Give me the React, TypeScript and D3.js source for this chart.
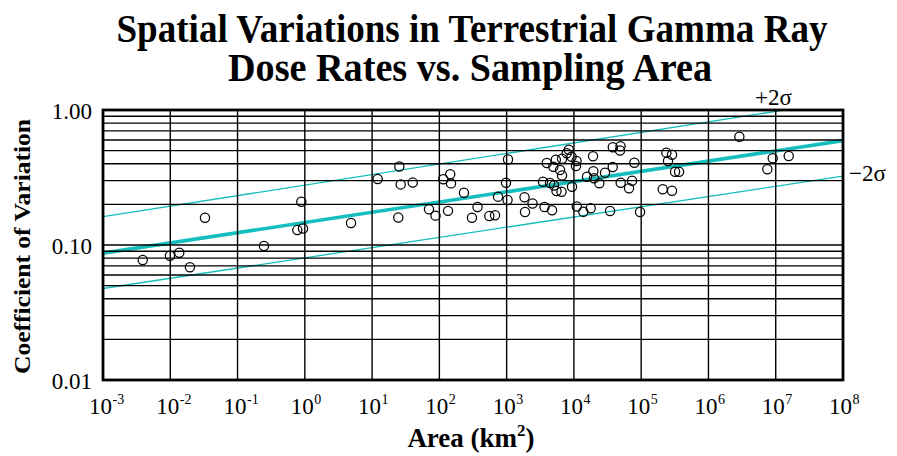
import React from 'react';
import * as d3 from 'd3';

// ---- data ----
const areas = [
  0.0039, 0.0099, 0.0136, 0.0196, 0.0328, 0.247, 0.887, 0.773, 0.94, 4.86,
  12.1, 25.4, 26.6, 40.2, 24.5, 70.1, 87.7, 114.5, 145, 149,
  134.5, 232, 305, 369, 553, 672, 745, 1048, 979, 1031,
  1845, 1876, 2425, 3660, 4730, 3950, 4945, 5385, 6655, 8395,
  9220, 10940, 6220, 6655, 3475, 4415, 5060, 5510, 6545, 9370,
  11020, 13800, 17780, 19240, 37870, 49300, 48450, 79070, 37750, 28970,
  19440, 15660, 23880, 49570, 73100, 65950, 34450, 96200, 236600, 287400,
  250500, 318700, 365400, 209000, 287400, 2.88e6, 9.02e6, 7.5e6, 1.56e7, 10740,
  19900, 7820,
];
const cvs = [
  0.0774, 0.0833, 0.0877, 0.0684, 0.159, 0.0984, 0.209, 0.129, 0.1325, 0.1455,
  0.308, 0.3815, 0.281, 0.29, 0.16, 0.1838, 0.165, 0.307, 0.3346, 0.286,
  0.179, 0.2436, 0.159, 0.191, 0.164, 0.166, 0.228, 0.43, 0.289, 0.2154,
  0.2256, 0.1756, 0.203, 0.191, 0.1807, 0.405, 0.38, 0.428, 0.435, 0.508,
  0.451, 0.419, 0.3594, 0.327, 0.294, 0.288, 0.276, 0.251, 0.248, 0.27,
  0.193, 0.1765, 0.187, 0.454, 0.5295, 0.5385, 0.501, 0.407, 0.378, 0.343,
  0.352, 0.3206, 0.2864, 0.289, 0.2995, 0.263, 0.1786, 0.1756, 0.483, 0.4665,
  0.419, 0.349, 0.349, 0.259, 0.2525, 0.634, 0.439, 0.364, 0.456, 0.385,
  0.312, 0.478,
];

const lineAreas = [1e-3, 1e8];
const fitCV = [0.087, 0.593];
const plus2CV = [0.162, 1.17];
const minus2CV = [0.0476, 0.324];

const xTickExponents = ['-3', '-2', '-1', '0', '1', '2', '3', '4', '5', '6', '7', '8'];
const yTickValues = [1, 0.1, 0.01];
const yTickLabels = ['1.00', '0.10', '0.01'];

const titleLines = ['Spatial Variations in Terrestrial Gamma Ray', 'Dose Rates vs. Sampling Area'];
const yTitle = 'Coefficient of Variation';

const W = 897;
const H = 456;
const L = 103, R = 843, T = 110, B = 380;
const TEAL = '#14bebe';
const SERIF = '"Liberation Serif", "Times New Roman", serif';

export default function App() {
  const x = d3.scaleLog().domain([1e-3, 1e8]).range([L, R]);
  const y = d3.scaleLog().domain([0.01, 1]).range([B, T]);

  const minorY: number[] = [];
  [0.01, 0.1].forEach((d) => {
    for (let k = 1; k <= 9; k++) minorY.push(d * k);
  });
  minorY.push(1);

  const line = d3
    .line<[number, number]>()
    .x((d) => x(d[0]))
    .y((d) => y(d[1]));
  const mk = (vals: number[]) => line(lineAreas.map((a, i) => [a, vals[i]] as [number, number])) || '';

  return (
    <svg
      width={W}
      height={H}
      style={{ position: 'absolute', left: 0, top: 0, background: '#fff' }}
      fontFamily={SERIF}
    >
      <rect x={0} y={0} width={W} height={H} fill="#fff" />
      <defs>
        <clipPath id="plotclip">
          <rect x={L} y={T} width={R - L} height={B - T} />
        </clipPath>
      </defs>

      {/* title */}
      <text x={472} y={42} textAnchor="middle" fontSize={39} fontWeight="bold" textLength={711} lengthAdjust="spacingAndGlyphs">
        {titleLines[0]}
      </text>
      <text x={470} y={81} textAnchor="middle" fontSize={39} fontWeight="bold" textLength={484} lengthAdjust="spacingAndGlyphs">
        {titleLines[1]}
      </text>

      {/* fit and ±2σ lines */}
      <g clipPath="url(#plotclip)" fill="none" stroke={TEAL}>
        <path d={mk(plus2CV)} strokeWidth={1.3} />
        <path d={mk(minus2CV)} strokeWidth={1.3} />
        <path d={mk(fitCV)} strokeWidth={3.6} />
      </g>

      {/* grid */}
      <g stroke="#000" strokeWidth={1.4}>
        {minorY.map((v, i) => (
          <line key={'h' + i} x1={L} x2={R} y1={y(v)} y2={y(v)} />
        ))}
        {xTickExponents.map((e, i) => {
          const xx = x(Math.pow(10, +e));
          return <line key={'v' + i} x1={xx} x2={xx} y1={T} y2={B} />;
        })}
      </g>

      {/* points */}
      <g fill="none" stroke="#000" strokeWidth={1.25}>
        {areas.map((a, i) => (
          <circle key={i} cx={x(a)} cy={y(cvs[i])} r={4.6} />
        ))}
      </g>

      {/* frame */}
      <rect x={L} y={T} width={R - L} height={B - T} fill="none" stroke="#000" strokeWidth={2.8} />

      {/* y tick labels */}
      {yTickValues.map((v, i) => (
        <text key={'yl' + i} x={92} y={y(v) + 9} textAnchor="end" fontSize={23}>
          {yTickLabels[i]}
        </text>
      ))}

      {/* x tick labels */}
      {xTickExponents.map((e, i) => {
        const xx = x(Math.pow(10, +e));
        return (
          <g key={'xl' + i}>
            <text x={xx + 9} y={414} textAnchor="end" fontSize={23}>
              10
            </text>
            <text x={xx + 9.5} y={404} textAnchor="start" fontSize={14}>
              {e}
            </text>
          </g>
        );
      })}

      {/* axis titles */}
      <text transform="translate(30,246.5) rotate(-90)" textAnchor="middle" fontSize={24} fontWeight="bold" textLength={255} lengthAdjust="spacingAndGlyphs">
        {yTitle}
      </text>
      <text x={471} y={447} textAnchor="middle" fontSize={27} fontWeight="bold">
        Area (km<tspan dy={-11} fontSize={17}>2</tspan><tspan dy={11}>)</tspan>
      </text>

      {/* sigma labels */}
      <text x={755} y={105} fontSize={23}>+2σ</text>
      <text x={849} y={181} fontSize={23}>−2σ</text>
    </svg>
  );
}
